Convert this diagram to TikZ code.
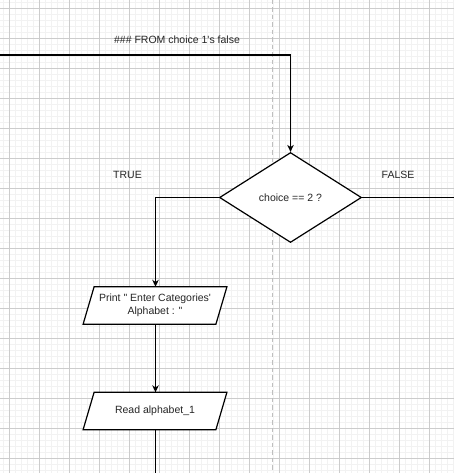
\documentclass[tikz,border=0pt]{standalone}
\usepackage{fontspec}
\setmainfont{Liberation Sans}[Ligatures=TeXOff]
\usetikzlibrary{shapes.geometric,arrows.meta,calc}

\tikzset{
  flow/.style={line width=1.2pt, draw=black},
  arrowline/.style={flow, -{Stealth[length=7pt,width=6.5pt,inset=2.2pt]}},
  label/.style={font=\fontsize{10.5}{12.5}\selectfont, inner sep=1pt, text=black!85},
  decision/.style={diamond, draw=black, line width=1.2pt, fill=white,
    minimum width=142pt, minimum height=90pt, inner sep=0pt,
    font=\fontsize{10.5}{12.5}\selectfont, text=black!85},
  iobody/.style={rectangle, minimum width=132.4pt, minimum height=37pt, inner sep=0pt,
    align=center, font=\fontsize{10.5}{12.5}\selectfont, text=black!85},
  minorgrid/.style={draw=black!5, line width=0.5pt},
  majorgrid/.style={draw=black!20, line width=0.6pt},
  divider/.style={draw=black!25, line width=1pt, dash pattern=on 4.5pt off 3pt}
}

% parallelogram outline around a body node, leaning right
\newcommand{\ioframe}[1]{%
  \draw[flow, fill=white]
    ($(#1.south west)+(-5.5pt,0)$) -- ($(#1.north west)+(5.5pt,0)$) --
    ($(#1.north east)+(5.5pt,0)$) -- ($(#1.south east)+(-5.5pt,0)$) -- cycle;}

\begin{document}
\begin{tikzpicture}[x=1pt, y=-1pt]
  \useasboundingbox (0,0) rectangle (454,473);
  \fill[white] (0,0) rectangle (454,473);

  % background grid
  \foreach \gx in {0,...,75} \draw[minorgrid] (3.5+6*\gx,0) -- (3.5+6*\gx,473);
  \foreach \gy in {0,...,78} \draw[minorgrid] (0,2.3+6*\gy) -- (454,2.3+6*\gy);
  \foreach \gx in {0,...,15} \draw[majorgrid] (9.5+30*\gx,0) -- (9.5+30*\gx,473);
  \foreach \gy in {0,...,15} \draw[majorgrid] (0,8.3+30*\gy) -- (454,8.3+30*\gy);

  % page divider
  \draw[divider] (272,0) -- (272,473);

  % decision
  \node[decision] (dec) at (290.5,197.5) {choice == 2 ?};

  % input / output boxes
  \node[iobody] (prt) at (155,305.5) {};
  \ioframe{prt}
  \node[iobody] at (prt) {Print " Enter Categories'\\Alphabet : "};

  \node[iobody] (rd) at (155,411) {};
  \ioframe{rd}
  \node[iobody] at (rd) {Read alphabet\_1};

  % free ends
  \coordinate (inL) at (0,55);
  \coordinate (inC) at (290.5,55);
  \coordinate (tbend) at (155.5,197.5);
  \coordinate (fout) at (454,197.5);
  \coordinate (rout) at (155.5,473);

  % connectors
  \draw[arrowline] (inL) -- (inC) -- (dec.north);
  \draw[arrowline] (dec.west) -- (tbend) -- (tbend |- prt.north);
  \draw[flow] (dec.east) -- (fout);
  \draw[arrowline] (tbend |- prt.south) -- (tbend |- rd.north);
  \draw[flow] (tbend |- rd.south) -- (rout);

  % labels
  \node[label] (lfrom) at (177,40) {\#\#\# FROM choice 1's false};
  \node[label] (ltrue) at (127.5,175) {TRUE};
  \node[label] (lfalse) at (398,175) {FALSE};
\end{tikzpicture}
\end{document}
